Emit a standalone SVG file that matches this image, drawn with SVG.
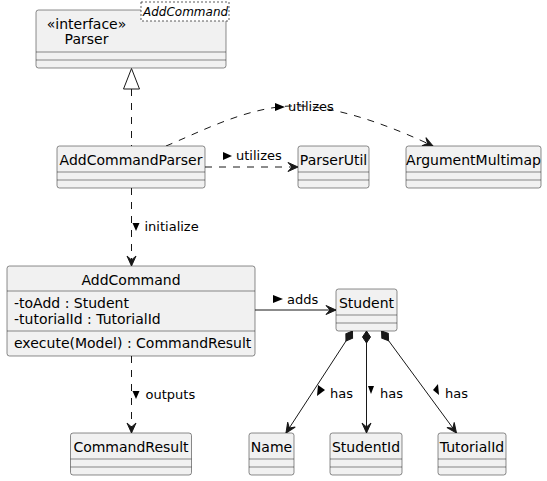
<svg xmlns="http://www.w3.org/2000/svg" width="547" height="481" viewBox="0 0 547 481">
<style>
.box{fill:#F1F1F1;stroke:#181818;stroke-width:0.5}
.sep{stroke:#181818;stroke-width:0.5}
.t{font-family:"DejaVu Sans",sans-serif;font-size:14px;fill:#000}
.lbl{font-family:"DejaVu Sans",sans-serif;font-size:13px;fill:#000}
.c{stroke:#181818;stroke-width:1;fill:none}
.d{stroke-dasharray:7,7}
.tri{fill:#000}
</style>
<defs>
<marker id="arr" markerUnits="userSpaceOnUse" markerWidth="14" markerHeight="12" viewBox="-12 -6 14 12" refX="0" refY="0" orient="auto">
<path d="M0,0 L-10,-4.5 L-6,0 L-10,4.5 Z" fill="#181818" stroke="#181818" stroke-width="1"/>
</marker>
<marker id="dia" markerUnits="userSpaceOnUse" markerWidth="16" markerHeight="12" viewBox="-1 -6 16 12" refX="0" refY="0" orient="auto">
<path d="M0,0 L6,-4 L12,0 L6,4 Z" fill="#181818" stroke="#181818" stroke-width="1"/>
</marker>
</defs>

<g id="connectors">
<!-- realization -->
<line class="c d" x1="131.5" y1="89" x2="131.5" y2="146"/>
<polygon points="131.5,68.5 123.5,89 139.5,89" fill="none" stroke="#181818" stroke-width="1"/>
<!-- utilizes curved -->
<path class="c d" d="M166,146 C200,132 245,108 290,106 C335,104 395,128 433,146" marker-end="url(#arr)"/>
<polygon class="tri" points="275,103 275,111 285,107"/>
<text class="lbl" x="288" y="111">utilizes</text>
<!-- utilizes straight -->
<line class="c d" x1="205" y1="167" x2="298" y2="167" marker-end="url(#arr)"/>
<polygon class="tri" points="223,152 223,160 232,156"/>
<text class="lbl" x="236" y="160">utilizes</text>
<!-- initialize -->
<line class="c d" x1="131.5" y1="188" x2="131.5" y2="266" marker-end="url(#arr)"/>
<polygon class="tri" points="132.5,223 139.5,223 136,231"/>
<text class="lbl" x="144.5" y="231">initialize</text>
<!-- adds -->
<line class="c" x1="255" y1="310" x2="336" y2="310" marker-end="url(#arr)"/>
<polygon class="tri" points="273,295 273,303 283,299"/>
<text class="lbl" x="287" y="304">adds</text>
<!-- outputs -->
<line class="c d" x1="131.5" y1="356" x2="131.5" y2="433" marker-end="url(#arr)"/>
<polygon class="tri" points="132.5,391 139.5,391 136,399"/>
<text class="lbl" x="145.5" y="399">outputs</text>
<!-- has left -->
<line class="c" x1="352.5" y1="331" x2="286" y2="433" marker-start="url(#dia)" marker-end="url(#arr)"/>
<polygon class="tri" points="318,385 325,390 317,396"/>
<text class="lbl" x="330" y="398">has</text>
<!-- has middle -->
<line class="c" x1="366.5" y1="331" x2="366.5" y2="433" marker-start="url(#dia)" marker-end="url(#arr)"/>
<polygon class="tri" points="368,386 374,386 371,394"/>
<text class="lbl" x="380" y="398">has</text>
<!-- has right -->
<line class="c" x1="381.5" y1="331" x2="456.5" y2="433" marker-start="url(#dia)" marker-end="url(#arr)"/>
<polygon class="tri" points="433,390 438,384 439,395"/>
<text class="lbl" x="445" y="398">has</text>
</g>

<g id="Parser">
<rect class="box" x="36" y="10" width="190" height="58" rx="2.5"/>
<line class="sep" x1="36" y1="52" x2="226" y2="52"/>
<line class="sep" x1="36" y1="60" x2="226" y2="60"/>
<rect x="141" y="2" width="88" height="19" fill="#FFFFFF" stroke="#181818" stroke-width="0.7" stroke-dasharray="2,2"/>
<text x="143" y="16" font-family="DejaVu Sans, sans-serif" font-size="12" font-style="italic">AddCommand</text>
<text class="t" x="86.5" y="28.5" text-anchor="middle" font-size="13">«interface»</text>
<text class="t" x="86.5" y="44" text-anchor="middle">Parser</text>
</g>

<g id="AddCommandParser">
<rect class="box" x="57" y="146" width="148" height="42" rx="2.5"/>
<line class="sep" x1="57" y1="172" x2="205" y2="172"/>
<line class="sep" x1="57" y1="180" x2="205" y2="180"/>
<text class="t" x="131" y="164.5" text-anchor="middle">AddCommandParser</text>
</g>

<g id="ParserUtil">
<rect class="box" x="298" y="146" width="71" height="42" rx="2.5"/>
<line class="sep" x1="298" y1="172" x2="369" y2="172"/>
<line class="sep" x1="298" y1="180" x2="369" y2="180"/>
<text class="t" x="333.5" y="164.5" text-anchor="middle">ParserUtil</text>
</g>

<g id="ArgumentMultimap">
<rect class="box" x="406" y="146" width="135" height="42" rx="2.5"/>
<line class="sep" x1="406" y1="172" x2="541" y2="172"/>
<line class="sep" x1="406" y1="180" x2="541" y2="180"/>
<text class="t" x="473.5" y="164.5" text-anchor="middle">ArgumentMultimap</text>
</g>

<g id="AddCommand">
<rect class="box" x="7" y="266" width="248" height="90" rx="2.5"/>
<line class="sep" x1="7" y1="291" x2="255" y2="291"/>
<line class="sep" x1="7" y1="331" x2="255" y2="331"/>
<text class="t" x="131" y="284.5" text-anchor="middle">AddCommand</text>
<text class="t" x="14" y="307.5">-toAdd : Student</text>
<text class="t" x="14" y="323.5">-tutorialId : TutorialId</text>
<text class="t" x="14" y="347.5">execute(Model) : CommandResult</text>
</g>

<g id="Student">
<rect class="box" x="336" y="289" width="61" height="42" rx="2.5"/>
<line class="sep" x1="336" y1="315" x2="397" y2="315"/>
<line class="sep" x1="336" y1="323" x2="397" y2="323"/>
<text class="t" x="366.5" y="307.5" text-anchor="middle">Student</text>
</g>

<g id="CommandResult">
<rect class="box" x="70.5" y="433" width="121" height="42" rx="2.5"/>
<line class="sep" x1="70.5" y1="459" x2="191.5" y2="459"/>
<line class="sep" x1="70.5" y1="467" x2="191.5" y2="467"/>
<text class="t" x="131" y="451.5" text-anchor="middle">CommandResult</text>
</g>

<g id="Name">
<rect class="box" x="249" y="433" width="45" height="42" rx="2.5"/>
<line class="sep" x1="249" y1="459" x2="294" y2="459"/>
<line class="sep" x1="249" y1="467" x2="294" y2="467"/>
<text class="t" x="271.5" y="451.5" text-anchor="middle">Name</text>
</g>

<g id="StudentId">
<rect class="box" x="330" y="433" width="72" height="42" rx="2.5"/>
<line class="sep" x1="330" y1="459" x2="402" y2="459"/>
<line class="sep" x1="330" y1="467" x2="402" y2="467"/>
<text class="t" x="366" y="451.5" text-anchor="middle">StudentId</text>
</g>

<g id="TutorialId">
<rect class="box" x="438" y="433" width="68" height="42" rx="2.5"/>
<line class="sep" x1="438" y1="459" x2="506" y2="459"/>
<line class="sep" x1="438" y1="467" x2="506" y2="467"/>
<text class="t" x="472" y="451.5" text-anchor="middle">TutorialId</text>
</g>
</svg>
